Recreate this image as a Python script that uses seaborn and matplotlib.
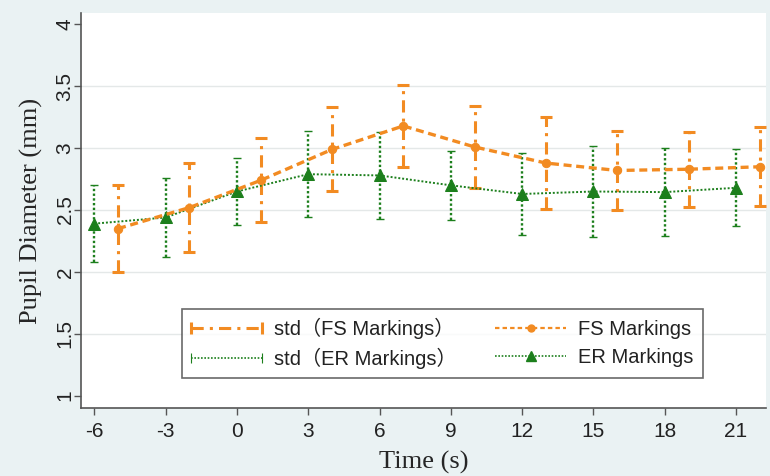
import numpy as np
import pandas as pd
import matplotlib
matplotlib.use("Agg")
import matplotlib.pyplot as plt
import matplotlib.transforms as mtransforms
from matplotlib.lines import Line2D
from matplotlib.legend_handler import HandlerLine2D
import seaborn as sns

# Pupil diameter over time for the two marking conditions
time_fs = [-5, -2, 1, 4, 7, 10, 13, 16, 19, 22]
fs_mean = [2.35, 2.52, 2.74, 2.99, 3.18, 3.01, 2.88, 2.82, 2.83, 2.85]
fs_std = [0.35, 0.36, 0.34, 0.34, 0.33, 0.33, 0.375, 0.32, 0.305, 0.32]

time_er = [-6, -3, 0, 3, 6, 9, 12, 15, 18, 21]
er_mean = [2.39, 2.44, 2.65, 2.79, 2.78, 2.70, 2.63, 2.65, 2.645, 2.68]
er_std = [0.31, 0.32, 0.27, 0.35, 0.35, 0.28, 0.33, 0.365, 0.357, 0.31]

x_ticks = [-6, -3, 0, 3, 6, 9, 12, 15, 18, 21]
y_ticks = [1, 1.5, 2, 2.5, 3, 3.5, 4]
y_tick_labels = ["1", "1.5", "2", "2.5", "3", "3.5", "4"]

legend_labels = ["std（FS Markings）", "FS Markings", "std（ER Markings）", "ER Markings"]

ORANGE = "#F28B22"
GREEN = "#1C7F1C"
BG = "#EAF2F3"

sns.set_theme(style="white")
plt.rcParams["font.family"] = ["Liberation Sans", "Noto Sans CJK SC", "DejaVu Sans"]

fig = plt.figure(figsize=(7.7, 4.76), dpi=100, facecolor=BG)
ax = fig.add_axes([0.1052, 0.1429, 0.8896, 0.8298])
ax.set_facecolor("white")

fs_df = pd.DataFrame({"time": time_fs, "mean": fs_mean})
er_df = pd.DataFrame({"time": time_er, "mean": er_mean})

# horizontal grid, skipping the axis ends
for yv in y_ticks[1:-1]:
    ax.axhline(yv, color="#E4E8E8", lw=1.0, zorder=0)

# ER standard deviation bars (dotted)
eb_er = ax.errorbar(time_er, er_mean, yerr=er_std, fmt="none", ecolor=GREEN,
                    elinewidth=1.7, capsize=3, capthick=1.0, zorder=2)
eb_er[2][0].set_linestyle((0, (1, 1)))

# FS standard deviation bars (dash-dot)
eb_fs = ax.errorbar(time_fs, fs_mean, yerr=fs_std, fmt="none", ecolor=ORANGE,
                    elinewidth=2.2, capsize=4, capthick=2.2, zorder=3)
eb_fs[2][0].set_linestyle((0, (4, 2, 1, 2)))

# mean lines
sns.lineplot(data=er_df, x="time", y="mean", ax=ax, color=GREEN, lw=1.4,
             linestyle=(0, (1, 1)), marker="^", markersize=8,
             markeredgecolor=GREEN, markerfacecolor=GREEN, zorder=4)
sns.lineplot(data=fs_df, x="time", y="mean", ax=ax, color=ORANGE, lw=2.4,
             linestyle=(0, (2.4, 1.4)), marker="o", markersize=6,
             markeredgecolor=ORANGE, markerfacecolor=ORANGE, zorder=5)

ax.set_xlim(-6.56, 22.26)
ax.set_ylim(0.9, 4.093)
ax.set_xticks(x_ticks)
ax.set_xticklabels([str(t) for t in x_ticks], fontsize=15, color="#222222")
ax.set_yticks(y_ticks)
ax.set_yticklabels(y_tick_labels, fontsize=15, color="#222222",
                   rotation=90, va="center")
ax.tick_params(axis="both", which="major", direction="out", length=5,
               width=1, color="#555555", left=True, bottom=True)
ax.tick_params(axis="x", pad=5)
ax.tick_params(axis="y", pad=1)

# nudge the rotated y tick labels slightly toward the axis
shift = mtransforms.ScaledTranslation(2 / 100, 0, fig.dpi_scale_trans)
for lbl in ax.get_yticklabels():
    lbl.set_transform(lbl.get_transform() + shift)

for side in ["top", "right"]:
    ax.spines[side].set_visible(False)
for side in ["left", "bottom"]:
    ax.spines[side].set_color("#555555")
    ax.spines[side].set_linewidth(1.2)

ax.set_xlabel("Time (s)", fontsize=19, family="Liberation Serif", labelpad=7)
ax.set_ylabel("Pupil Diameter (mm)", fontsize=19, family="Liberation Serif",
              labelpad=9)

# legend handles
h_fs_std = Line2D([0, 1], [0, 0], color=ORANGE, lw=2.2,
                  linestyle=(0, (4, 2, 1, 2)), marker="|", markersize=9,
                  markeredgewidth=2.2)
h_fs = Line2D([0, 1], [0, 0], color=ORANGE, lw=1.6, linestyle=(0, (2, 1.4)),
              marker="o", markersize=5)
h_er_std = Line2D([0, 1], [0, 0], color=GREEN, lw=1.2, linestyle=(0, (1, 1)),
                  marker="|", markersize=7, markeredgewidth=0.8)
h_er = Line2D([0, 1], [0, 0], color=GREEN, lw=1.2, linestyle=(0, (1, 1)),
              marker="^", markersize=7)

leg = ax.legend(
    [h_fs_std, h_er_std, h_fs, h_er],
    [legend_labels[0], legend_labels[2], legend_labels[1], legend_labels[3]],
    ncol=2, loc="lower left", bbox_to_anchor=(0.1474, 0.076),
    borderaxespad=0.0,
    fontsize=14.5, frameon=True, fancybox=False, edgecolor="#444444",
    handlelength=3.5, handletextpad=0.6, columnspacing=1.95,
    labelspacing=0.42, borderpad=0.45,
    handler_map={h_fs_std: HandlerLine2D(numpoints=2, marker_pad=0.0),
                 h_er_std: HandlerLine2D(numpoints=2, marker_pad=0.0),
                 h_fs: HandlerLine2D(numpoints=1),
                 h_er: HandlerLine2D(numpoints=1)},
)
leg.get_frame().set_linewidth(1.2)
for t in leg.get_texts():
    t.set_color("#222222")

fig.savefig("out.png", dpi=100, facecolor=BG)
